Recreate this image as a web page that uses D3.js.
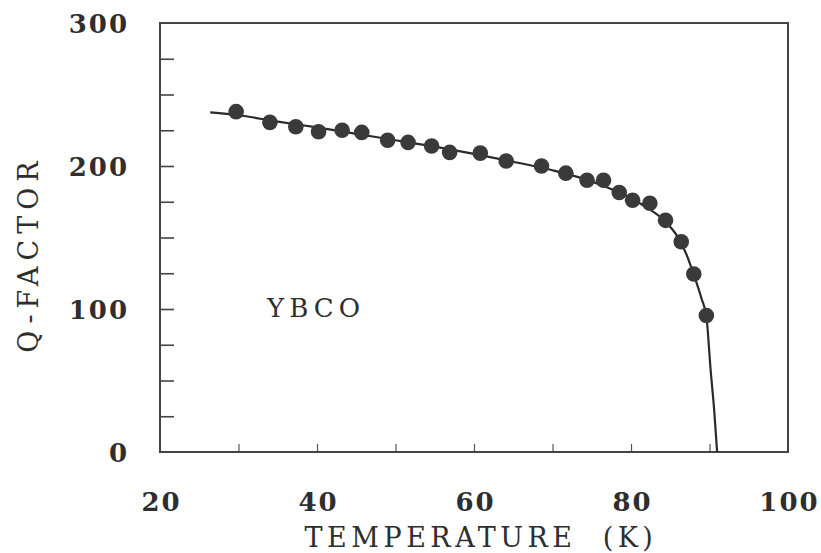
<!DOCTYPE html>
<html>
<head>
<meta charset="utf-8">
<script src="https://cdn.jsdelivr.net/npm/d3@7"></script>
<style>
  body { margin: 0; background: #fff; }
  svg { display: block; }
  text { font-family: "DejaVu Serif", "Liberation Serif", serif; fill: #2e2e2e; }
</style>
</head>
<body>
<div id="chart"></div>
<script>
// measured points (temperature in K, Q-factor)
const tempK = [29.7, 34.0, 37.3, 40.2, 43.2, 45.7, 49.0, 51.6, 54.6, 56.9, 60.8, 64.1, 68.6, 71.7, 74.4, 76.5, 78.5, 80.2, 82.4, 84.4, 86.4, 88.0, 89.6];
const qFactor = [238, 230.5, 227.5, 224, 225, 223.5, 218, 216.5, 214, 209.5, 209, 203.5, 200, 195, 190, 190, 181.5, 176, 174, 162, 147, 124.5, 95.5];

// fitted curve
const curveT = [26.4, 30, 35, 40, 45, 50, 55, 60, 65, 70, 74, 77, 80, 82, 84, 86, 87, 88, 89, 89.6, 90.15, 90.6, 90.97];
const curveQ = [237.5, 235.5, 231, 227, 222.5, 218, 213.5, 208.5, 203, 197, 191, 185, 177.5, 171, 163, 150, 139, 124, 107, 95, 57, 29, 0];

const xLabels = [20, 40, 60, 80, 100];
const xMinor = [30, 40, 50, 60, 70, 80, 90];
const yLabels = [0, 100, 200, 300];
const yMinor = [25, 50, 75, 100, 125, 150, 175, 200, 225, 250, 275];

const width = 821;
const height = 553;

const svg = d3.select("#chart").append("svg")
    .attr("width", width)
    .attr("height", height);

const x = d3.scaleLinear().domain([20, 100]).range([160, 788]);
const y = d3.scaleLinear().domain([0, 300]).range([452, 23]);

// inner tick marks
svg.append("g")
    .attr("transform", "translate(0," + y(0) + ")")
    .call(d3.axisBottom(x).tickValues(xMinor).tickSize(-8).tickFormat(""))
    .call(g => g.select(".domain").remove())
    .call(g => g.selectAll("line").attr("stroke", "#555").attr("stroke-width", 1.2));

svg.append("g")
    .attr("transform", "translate(" + x(20) + ",0)")
    .call(d3.axisLeft(y).tickValues(yMinor).tickSize(-14).tickFormat(""))
    .call(g => g.select(".domain").remove())
    .call(g => g.selectAll("line").attr("stroke", "#444").attr("stroke-width", 1.6));

// frame
svg.append("rect")
    .attr("x", x(20))
    .attr("y", y(300))
    .attr("width", x(100) - x(20))
    .attr("height", y(0) - y(300))
    .attr("fill", "none")
    .attr("stroke", "#444")
    .attr("stroke-width", 2);

// tick labels
const xLab = svg.append("g")
    .attr("transform", "translate(0," + y(0) + ")")
    .call(d3.axisBottom(x).tickValues(xLabels).tickSize(0).tickFormat(d3.format("d")));
xLab.select(".domain").remove();
xLab.selectAll("text")
    .attr("y", 50)
    .attr("dy", "0.35em")
    .attr("dx", 1)
    .style("font-family", "'DejaVu Serif', serif")
    .style("font-size", "26px")
    .style("font-weight", "bold")
    .style("letter-spacing", "2px")
    .style("fill", "#2e2e2e");

const yLab = svg.append("g")
    .attr("transform", "translate(" + x(20) + ",0)")
    .call(d3.axisLeft(y).tickValues(yLabels).tickSize(0).tickFormat(d3.format("d")));
yLab.select(".domain").remove();
yLab.selectAll("text")
    .attr("x", -31)
    .attr("dy", "0.35em")
    .style("font-family", "'DejaVu Serif', serif")
    .style("font-size", "26px")
    .style("font-weight", "bold")
    .style("letter-spacing", "2px")
    .style("fill", "#2e2e2e");

// curve
const line = d3.line()
    .x(function(d) { return x(d[0]); })
    .y(function(d) { return y(d[1]); })
    .curve(d3.curveMonotoneX);

svg.append("path")
    .datum(d3.zip(curveT, curveQ))
    .attr("d", line)
    .attr("fill", "none")
    .attr("stroke", "#2a2a2a")
    .attr("stroke-width", 2.2);

// points
svg.selectAll("circle.point")
    .data(d3.zip(tempK, qFactor))
    .enter()
    .append("circle")
    .attr("class", "point")
    .attr("cx", function(d) { return x(d[0]); })
    .attr("cy", function(d) { return y(d[1]); })
    .attr("r", 7.8)
    .attr("fill", "#3a3a3a");

// annotation
svg.append("text")
    .attr("x", 267)
    .attr("y", 317)
    .style("font-size", "26px")
    .style("letter-spacing", "5px")
    .text("YBCO");

// axis titles
svg.append("text")
    .attr("x", 481)
    .attr("y", 547)
    .attr("text-anchor", "middle")
    .style("font-size", "27px")
    .style("letter-spacing", "4.5px")
    .text("TEMPERATURE\u00a0\u00a0(K)");

svg.append("text")
    .attr("transform", "translate(38,254) rotate(-90)")
    .attr("text-anchor", "middle")
    .style("font-size", "27px")
    .style("letter-spacing", "6px")
    .text("Q-FACTOR");
</script>
</body>
</html>
